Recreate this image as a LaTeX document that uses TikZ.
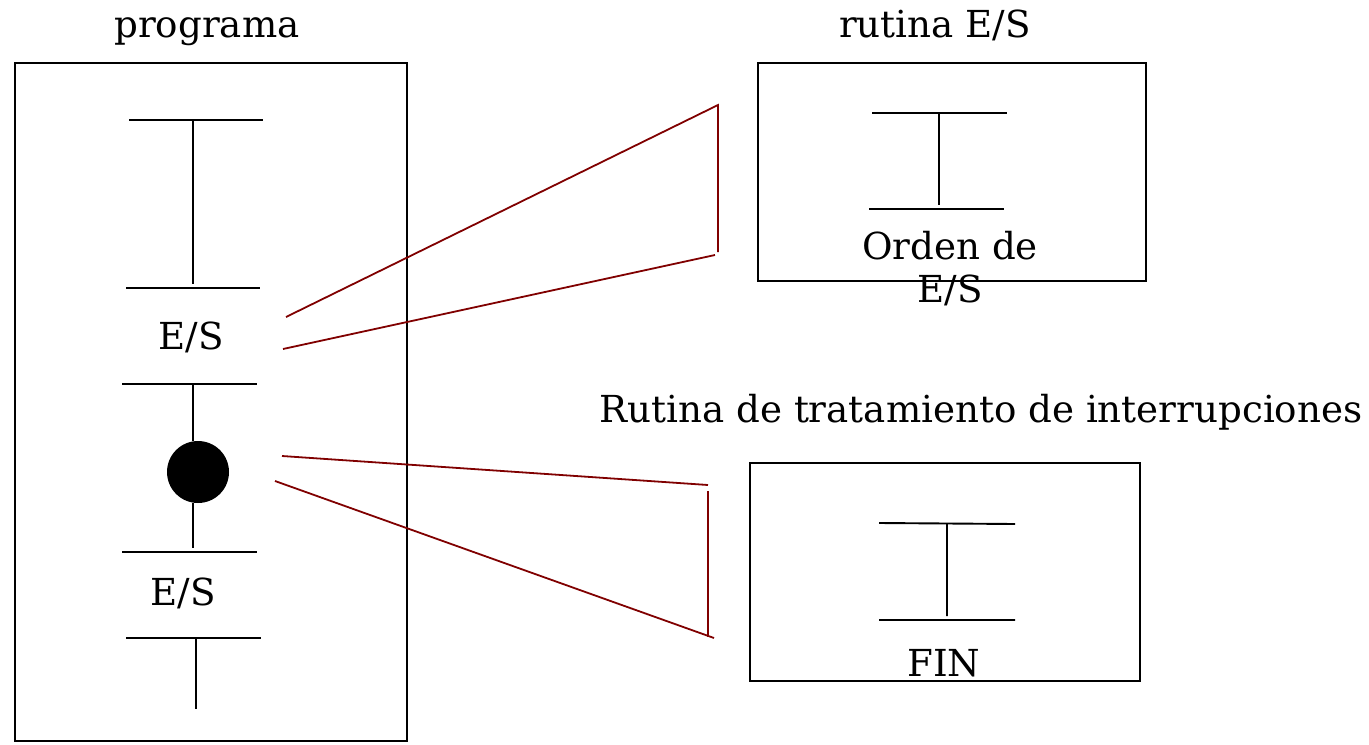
\documentclass[tikz,border=0pt]{standalone}
\usepackage{fontspec}
\setmainfont{DejaVu Serif}
\usetikzlibrary{positioning}
\definecolor{linkred}{HTML}{800000}
\tikzset{
  label text/.style={font=\fontsize{18.6}{21.5}\selectfont, inner sep=0pt, align=center},
  box/.style={draw, line width=0.95pt},
  bar/.style={line width=0.95pt},
  link/.style={draw=linkred, line width=0.9pt},
}
\begin{document}
\begin{tikzpicture}[x=0.5pt,y=-0.5pt]
      \useasboundingbox (0,0) rectangle (1369,744);

      % programa
      \node [label text, anchor=base] (prog title) at (207,37) {programa};
      \draw [box] (15,63) rectangle (407,741);
      \draw [bar] (129,120) -- (263,120) (193,120) -- (193,284) (126,288) -- (260,288);
      \node [label text, anchor=base] (es1) at (191,349) {E/S};
      \draw [bar] (122,384) -- (257,384) (193,384) -- (193,441);
      \node [circle, fill, minimum size=31pt, inner sep=0pt] (intr) at (198,472) {};
      \draw [bar] (193,503) -- (193,548) (122,552) -- (257,552);
      \node [label text, anchor=base] (es2) at (183,605) {E/S};
      \draw [bar] (126,638) -- (261,638) (196,638) -- (196,709);

      % rutina E/S
      \node [label text, anchor=base] (rut title) at (935,37) {rutina E/S};
      \draw [box] (758,63) rectangle (1146,281);
      \draw [bar] (872,113) -- (1007,113) (939,113) -- (939,205) (869,209) -- (1004,209);
      \node [label text] (orden) at (950,269) {Orden de\\E/S};

      % rutina de interrupciones
      \node [label text, anchor=base] (int title) at (981,422) {Rutina de tratamiento de interrupciones};
      \draw [box] (750,463) rectangle (1140,681);
      \draw [bar] (879,523) -- (1015,524) (947,524) -- (947,616) (879,620) -- (1015,620);
      \node [label text, anchor=base] (fin) at (944,676) {FIN};

      % zoom lines
      \coordinate (a1) at (286,317);
      \coordinate (a2) at (718,105);
      \coordinate (a3) at (718,252);
      \coordinate (a4) at (715,255);
      \coordinate (a5) at (283,349);
      \coordinate (b1) at (282,456);
      \coordinate (b2) at (708,485);
      \coordinate (b3) at (708,491);
      \coordinate (b4) at (708,637);
      \coordinate (b5) at (714,638);
      \coordinate (b6) at (275,481);
      \draw [link] (a1) -- (a2) -- (a3);
      \draw [link] (a4) -- (a5);
      \draw [link] (b1) -- (b2);
      \draw [link] (b3) -- (b4);
      \draw [link] (b5) -- (b6);
\end{tikzpicture}
\end{document}
